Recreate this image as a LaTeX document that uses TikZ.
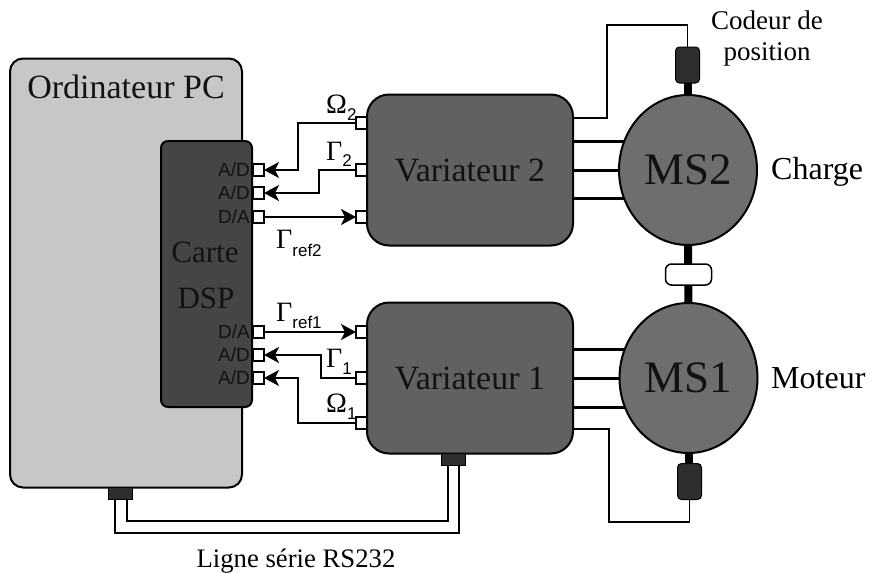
\documentclass[tikz,border=0pt]{standalone}
\usepackage{fontspec}
\setmainfont{Liberation Serif}
\setsansfont{Liberation Sans}
\usetikzlibrary{arrows.meta,shapes.geometric,calc}
\newcommand{\fs}[1]{\fontsize{#1}{#1}\selectfont}
\newcommand{\sym}[4]{{\fs{28}#1}\raisebox{-#4pt}{\fs{#3}\sffamily #2}}
\definecolor{pcgray}{gray}{0.78}
\definecolor{dspgray}{gray}{0.27}
\definecolor{vargray}{gray}{0.38}
\definecolor{msgray}{gray}{0.43}
\definecolor{encgray}{gray}{0.18}
\definecolor{inktext}{gray}{0.07}
\tikzset{
  x=1pt,y=-1pt,
  box/.style={draw=black,line width=2pt,rectangle,inner sep=0pt,outer sep=0pt,align=center,text=inktext},
  pcbox/.style={box,fill=pcgray,rounded corners=13pt,minimum width=232pt,minimum height=429pt},
  dspbox/.style={box,fill=dspgray,rounded corners=7pt,minimum width=91pt,minimum height=266pt},
  varbox/.style={box,fill=vargray,rounded corners=22pt,minimum width=206pt,minimum height=151pt,font=\fs{34}},
  msnode/.style={draw=black,line width=2pt,ellipse,fill=msgray,inner sep=0pt,outer sep=0pt,minimum width=138pt,minimum height=150pt,font=\fs{45},text=inktext},
  encbox/.style={box,fill=encgray,rounded corners=4pt,minimum width=24pt,minimum height=36pt,line width=1pt},
  conbox/.style={box,fill=encgray,minimum width=24pt,minimum height=12pt,line width=1pt},
  port/.style={draw=black,line width=1.6pt,fill=white,rectangle,inner sep=0pt,outer sep=0pt,minimum width=11pt,minimum height=12pt},
  conv/.style={anchor=east,inner sep=0pt,font=\sffamily\fs{19},text=inktext},
  wire/.style={draw=black,line width=1.8pt},
  thin wire/.style={draw=black,line width=1.5pt},
  phase/.style={draw=black,line width=3pt},
  shaft/.style={draw=black,line width=8pt},
  sig/.style={wire,-{Stealth[length=15pt,width=16pt,inset=4pt]}},
  lab/.style={inner sep=0pt,text=black},
  sl/.style={lab,anchor=base west}
}
\begin{document}
\begin{tikzpicture}
\useasboundingbox (0,0) rectangle (873,573);
% main boxes
\node[pcbox] (pc) at (126,273) {};
\node[lab,font=\fs{34},text=inktext] (pclabel) at (126,87) {Ordinateur PC};
\node[dspbox] (dsp) at (206.5,274) {};
\node[lab,font=\fs{31},text=inktext] (carte) at (205,252) {Carte};
\node[lab,font=\fs{31},text=inktext] (dsplabel) at (206,298) {DSP};
\node[varbox] (var2) at (470,170) {Variateur 2};
\node[varbox] (var1) at (470,378) {Variateur 1};
% motors
\node[msnode] (ms2) at (688,170) {MS2};
\node[msnode] (ms1) at (688.5,378) {MS1};
% shafts, encoders, coupling
\node[encbox] (enc2) at (687.5,65) {};
\node[encbox] (enc1) at (689.5,481.5) {};
\draw[shaft] (ms2.north) -- (ms2.north |- enc2.south);
\draw[shaft] (ms1.south) -- (ms1.south |- enc1.north);
\draw[shaft] (ms2.south) -- (ms1.north);
\node[box,fill=white,rounded corners=6pt,minimum width=46pt,minimum height=21pt,line width=1.5pt] (coupling) at (688.5,274.5) {};
% ports
\node[port] (d1) at (258.5,170) {};
\node[port] (d2) at (258.5,193) {};
\node[port] (d3) at (258.5,217) {};
\node[port] (d4) at (258.5,332) {};
\node[port] (d5) at (258.5,355) {};
\node[port] (d6) at (258.5,378) {};
\node[port] (v1) at (361.5,123) {};
\node[port] (v2) at (361.5,170) {};
\node[port] (v3) at (361.5,217) {};
\node[port] (v4) at (361.5,332) {};
\node[port] (v5) at (361.5,378) {};
\node[port] (v6) at (361.5,423) {};
\node[conv] (c1) at (250,170) {A/D};
\node[conv] (c2) at (250,193) {A/D};
\node[conv] (c3) at (250,217) {D/A};
\node[conv] (c4) at (250,332) {D/A};
\node[conv] (c5) at (250,355) {A/D};
\node[conv] (c6) at (250,378) {A/D};
% signals
\coordinate (b1) at (298,123);
\coordinate (b2) at (319,170);
\coordinate (b5) at (321,378);
\coordinate (b6) at (298,423);
\draw[sig] (v1.west) -- (b1) |- (d1.east);
\draw[sig] (v2.west) -- (b2) |- (d2.east);
\draw[sig] (d3.east) -- (v3.west);
\draw[sig] (d4.east) -- (v4.west);
\draw[sig] (v5.west) -- (b5) |- (d5.east);
\draw[sig] (v6.west) -- (b6) |- (d6.east);
% power lines
\draw[phase] (var2.east |- 0,141) -- (624,141);
\draw[phase] (var2.east) -- (ms2.west);
\draw[phase] (var2.east |- 0,198) -- (624,198);
\draw[phase] (var1.east |- 0,349) -- (625,349);
\draw[phase] (var1.east) -- (ms1.west);
\draw[phase] (var1.east |- 0,407) -- (625,407);
% encoder wires
\coordinate (t2) at (573,118);
\coordinate (u2) at (607,25);
\coordinate (t1) at (573,429);
\coordinate (u1) at (609,522);
\draw[thin wire] (t2) -| (u2) -| (enc2.north);
\draw[thin wire] (t1) -| (u1) -| (enc1.south);
% serial link
\node[conbox] (cpc) at (120.5,493) {};
\node[conbox] (cvar) at (453.5,459) {};
\coordinate (s1) at (127,521);
\coordinate (s2) at (115,533);
\coordinate (s3) at (448,521);
\coordinate (s4) at (459,533);
\draw[thin wire] (s1 |- cpc.south) -- (s1) -- (s3) -- (s3 |- cvar.south);
\draw[thin wire] (s2 |- cpc.south) -- (s2) -- (s4) -- (s4 |- cvar.south);
% labels
\node[lab,font=\fs{27}] (codeur) at (767,20) {Codeur de};
\node[lab,font=\fs{27}] (position) at (767,54) {position};
\node[lab,font=\fs{32},anchor=west] (charge) at (771,172) {Charge};
\node[lab,font=\fs{32},anchor=west] (moteur) at (771,378) {Moteur};
\node[lab,font=\fs{26.7}] (rs) at (296,561) {Ligne série RS232};
\node[sl] (om2) at (326,113) {\sym{Ω}{2}{17}{7}};
\node[sl] (ga2) at (326,160) {\sym{Γ}{2}{17}{6}};
\node[sl] (gr2) at (276,248) {\sym{Γ}{ref2}{17}{8}};
\node[sl] (gr1) at (276,321) {\sym{Γ}{ref1}{17}{7}};
\node[sl] (ga1) at (326,367) {\sym{Γ}{1}{17}{7}};
\node[sl] (om1) at (326,412) {\sym{Ω}{1}{17}{7}};
\end{tikzpicture}
\end{document}
